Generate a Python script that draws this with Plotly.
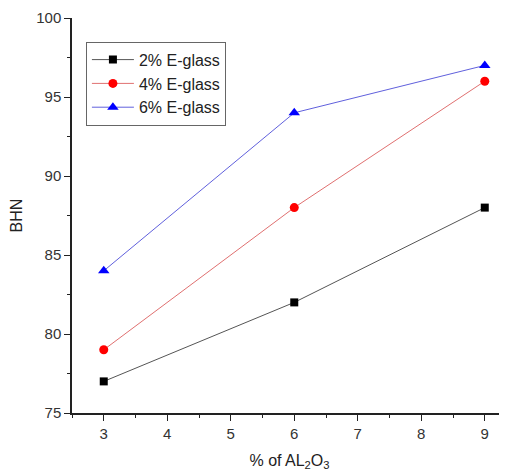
import plotly.graph_objects as go

x_vals = [3, 6, 9]
s2 = [77, 82, 88]
s4 = [79, 88, 96]
s6 = [84, 94, 97]
names = ["2% E-glass", "4% E-glass", "6% E-glass"]

fig = go.Figure()
fig.add_trace(go.Scatter(x=x_vals, y=s2, name=names[0], mode="lines+markers",
                         line=dict(color="#555555", width=1),
                         marker=dict(symbol="square", size=8, color="black")))
fig.add_trace(go.Scatter(x=x_vals, y=s4, name=names[1], mode="lines+markers",
                         line=dict(color="#e07070", width=1),
                         marker=dict(symbol="circle", size=9, color="red")))
fig.add_trace(go.Scatter(x=x_vals, y=s6, name=names[2], mode="lines+markers",
                         line=dict(color="#6060dd", width=1),
                         marker=dict(symbol="triangle-up", size=10, color="blue")))

axis_font = dict(family="Liberation Sans, Arial, sans-serif", size=15, color="#333333")
fig.update_layout(
    width=507, height=475,
    margin=dict(l=64, r=8, t=10, b=70, autoexpand=False),
    paper_bgcolor="white", plot_bgcolor="white",
    font=dict(family="Liberation Sans, Arial, sans-serif", color="#222222"),
    xaxis=dict(range=[2.5, 9.35], tickvals=[3, 4, 5, 6, 7, 8, 9],
               showline=True, linecolor="#222222", linewidth=1.5,
               ticks="outside", ticklen=6, tickcolor="#222222",
               minor=dict(dtick=0.5, ticks="outside", ticklen=3, tickcolor="#222222"),
               showgrid=False, zeroline=False, tickfont=axis_font, automargin=False,
               ticklabeloverflow="allow",
               title=dict(text="% of AL<sub>2</sub>O<sub>3</sub>", font=dict(size=16, color="#222222"), standoff=14)),
    yaxis=dict(range=[75, 100], tickvals=[75, 80, 85, 90, 95, 100],
               showline=True, linecolor="#222222", linewidth=1.5,
               ticks="outside", ticklen=6, tickcolor="#222222",
               minor=dict(dtick=2.5, ticks="outside", ticklen=3, tickcolor="#222222"),
               showgrid=False, zeroline=False, tickfont=axis_font, automargin=False,
               ticklabeloverflow="allow",
               title=dict(text="BHN", font=dict(size=16, color="#222222"), standoff=18)),
    legend=dict(x=0.032, y=0.94, xanchor="left", yanchor="top",
                bordercolor="#666666", borderwidth=1, bgcolor="white",
                font=dict(size=16, color="#222222"),
                tracegroupgap=0, itemwidth=42),
    showlegend=True,
)
fig.write_html("out.html")
